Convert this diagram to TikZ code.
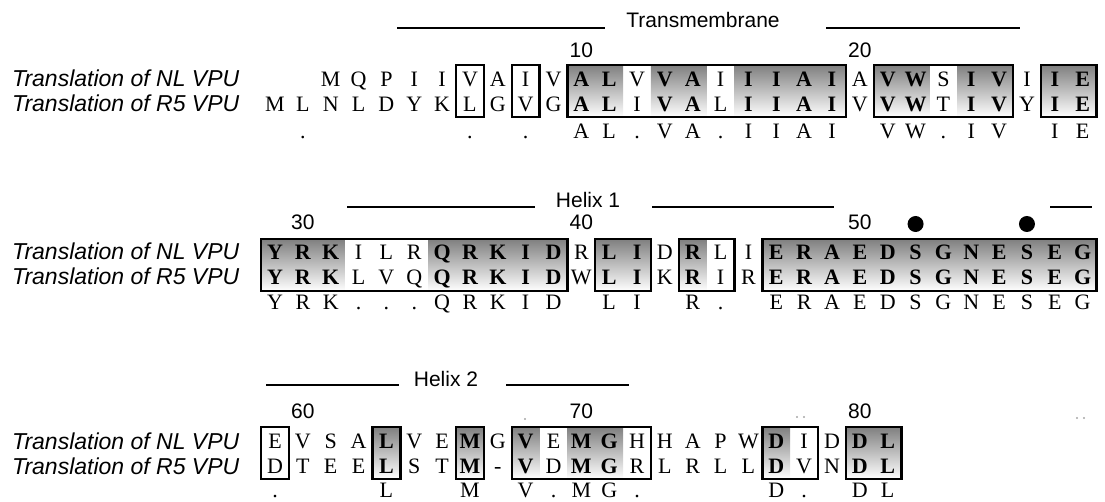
\documentclass[tikz,border=0pt]{standalone}
\usepackage{fontspec}
\setmainfont{Liberation Serif}
\newfontfamily\labfont{Liberation Sans}
\definecolor{shade}{RGB}{180,180,180}
\tikzset{
  res/.style={anchor=base, inner sep=0pt, font=\fontsize{22}{22}\selectfont},
  resb/.style={anchor=base, inner sep=0pt, font=\fontsize{22}{22}\selectfont\bfseries},
  seqlabel/.style={anchor=base west, inner sep=0pt, font=\labfont\itshape\fontsize{23}{24}\selectfont},
  num/.style={anchor=base, inner sep=0pt, font=\labfont\fontsize{21}{21}\selectfont},
  head/.style={anchor=base, inner sep=0pt, font=\labfont\fontsize{21}{21}\selectfont},
  hbar/.style={line width=2.5pt},
  alnbox/.style={draw=black, line width=2.4pt},
  pdot/.style={fill=black, circle, inner sep=0pt, minimum size=16pt},
  speck/.style={fill=gray!70, circle, inner sep=0pt, minimum size=2.4pt},
}
% #1 prefix, #2 NL baseline, #3 R5 baseline, #4 consensus baseline, #5 box top, #6 box bottom, #7 columns, #8 boxes
\newcommand\alignblock[8]{%
  \foreach \c/\a/\b/\k/\s in {#7}{%
    \pgfmathsetmacro\xx{275+27.85*(\c-1)}%
    \if b\s
      \fill[shade] (\xx-13.925,#5) rectangle (\xx+13.925,#6);
      \node[resb] (#1a\c) at (\xx,#2) {\a};
      \node[resb] (#1b\c) at (\xx,#3) {\b};
    \else
      \node[res] (#1a\c) at (\xx,#2) {\a};
      \node[res] (#1b\c) at (\xx,#3) {\b};
    \fi
    \node[res] (#1k\c) at (\xx,#4) {\k};
  }%
  \foreach \p/\q in {#8}{%
    \draw[alnbox] ({275+27.85*(\p-1)-13.925},#5) rectangle ({275+27.85*(\q-1)+13.925},#6);
  }%
}
\begin{document}
\begin{tikzpicture}[x=1pt,y=-1pt]
\path[use as bounding box] (0,0) rectangle (1105,502);

% ---------- Block 1 ----------
\node[head] (tm) at (703,27.5) {Transmembrane};
\coordinate (t1a) at (397,28); \coordinate (t1b) at (605,28);
\coordinate (t2a) at (826,28); \coordinate (t2b) at (1020,28);
\draw[hbar] (t1a) -- (t1b);
\draw[hbar] (t2a) -- (t2b);
\node[num] (n10) at (581.35,57.5) {10};
\node[num] (n20) at (859.85,57.5) {20};
\node[seqlabel] (l1a) at (12,87) {Translation of NL VPU};
\node[seqlabel] (l1b) at (12,112) {Translation of R5 VPU};
\alignblock{A}{86.5}{111.5}{138.5}{65}{117}{
1/{}/M/{}/n, 2/{}/L/./n, 3/M/N/{}/n, 4/Q/L/{}/n, 5/P/D/{}/n, 6/I/Y/{}/n, 7/I/K/{}/n,
8/V/L/./n, 9/A/G/{}/n, 10/I/V/./n, 11/V/G/{}/n, 12/A/A/A/b, 13/L/L/L/b, 14/V/I/./n,
15/V/V/V/b, 16/A/A/A/b, 17/I/L/./n, 18/I/I/I/b, 19/I/I/I/b, 20/A/A/A/b, 21/I/I/I/b,
22/A/V/{}/n, 23/V/V/V/b, 24/W/W/W/b, 25/S/T/./n, 26/I/I/I/b, 27/V/V/V/b, 28/I/Y/{}/n,
29/I/I/I/b, 30/E/E/E/b}{8/8, 10/10, 12/21, 23/27, 29/30}

% ---------- Block 2 ----------
\node[head] (h1) at (588,207.5) {Helix 1};
\coordinate (h1a) at (347,207); \coordinate (h1b) at (535,207);
\coordinate (h2a) at (652,207); \coordinate (h2b) at (834,207);
\coordinate (h3a) at (1050,207); \coordinate (h3b) at (1092,207);
\draw[hbar] (h1a) -- (h1b);
\draw[hbar] (h2a) -- (h2b);
\draw[hbar] (h3a) -- (h3b);
\node[num] (n30) at (302.85,230) {30};
\node[num] (n40) at (581.35,230) {40};
\node[num] (n50) at (859.85,230) {50};
\node[pdot] (p1) at (915.55,224) {};
\node[pdot] (p2) at (1026.95,224) {};
\node[seqlabel] (l2a) at (12,260) {Translation of NL VPU};
\node[seqlabel] (l2b) at (12,285) {Translation of R5 VPU};
\alignblock{B}{259.5}{285}{310}{239}{291}{
1/Y/Y/Y/b, 2/R/R/R/b, 3/K/K/K/b, 4/I/L/./n, 5/L/V/./n, 6/R/Q/./n, 7/Q/Q/Q/b,
8/R/R/R/b, 9/K/K/K/b, 10/I/I/I/b, 11/D/D/D/b, 12/R/W/{}/n, 13/L/L/L/b, 14/I/I/I/b,
15/D/K/{}/n, 16/R/R/R/b, 17/L/I/./n, 18/I/R/{}/n, 19/E/E/E/b, 20/R/R/R/b, 21/A/A/A/b,
22/E/E/E/b, 23/D/D/D/b, 24/S/S/S/b, 25/G/G/G/b, 26/N/N/N/b, 27/E/E/E/b, 28/S/S/S/b,
29/E/E/E/b, 30/G/G/G/b}{1/11, 13/14, 16/17, 19/30}

% ---------- Block 3 ----------
\node[head] (h2) at (446,386.5) {Helix 2};
\coordinate (k1a) at (266,385); \coordinate (k1b) at (399,385);
\coordinate (k2a) at (506,385); \coordinate (k2b) at (629,385);
\draw[hbar] (k1a) -- (k1b);
\draw[hbar] (k2a) -- (k2b);
\node[num] (n60) at (302.85,418.5) {60};
\node[num] (n70) at (581.35,418.5) {70};
\node[num] (n80) at (859.85,418.5) {80};
\node[speck] (s1) at (525,419) {};
\node[speck] (s2) at (797,417) {};
\node[speck] (s3) at (804,417) {};
\node[speck] (s4) at (1077,418) {};
\node[speck] (s5) at (1084,418) {};
\node[seqlabel] (l3a) at (12,449) {Translation of NL VPU};
\node[seqlabel] (l3b) at (12,474) {Translation of R5 VPU};
\alignblock{C}{448.5}{473.5}{497.5}{427}{479}{
1/E/D/./n, 2/V/T/{}/n, 3/S/E/{}/n, 4/A/E/{}/n, 5/L/L/L/b, 6/V/S/{}/n, 7/E/T/{}/n,
8/M/M/M/b, 9/G/-/{}/n, 10/V/V/V/b, 11/E/D/./n, 12/M/M/M/b, 13/G/G/G/b, 14/H/R/./n,
15/H/L/{}/n, 16/A/R/{}/n, 17/P/L/{}/n, 18/W/L/{}/n, 19/D/D/D/b, 20/I/V/./n,
21/D/N/{}/n, 22/D/D/D/b, 23/L/L/L/b}{1/1, 5/5, 8/8, 10/14, 19/20, 22/23}
\end{tikzpicture}
\end{document}
